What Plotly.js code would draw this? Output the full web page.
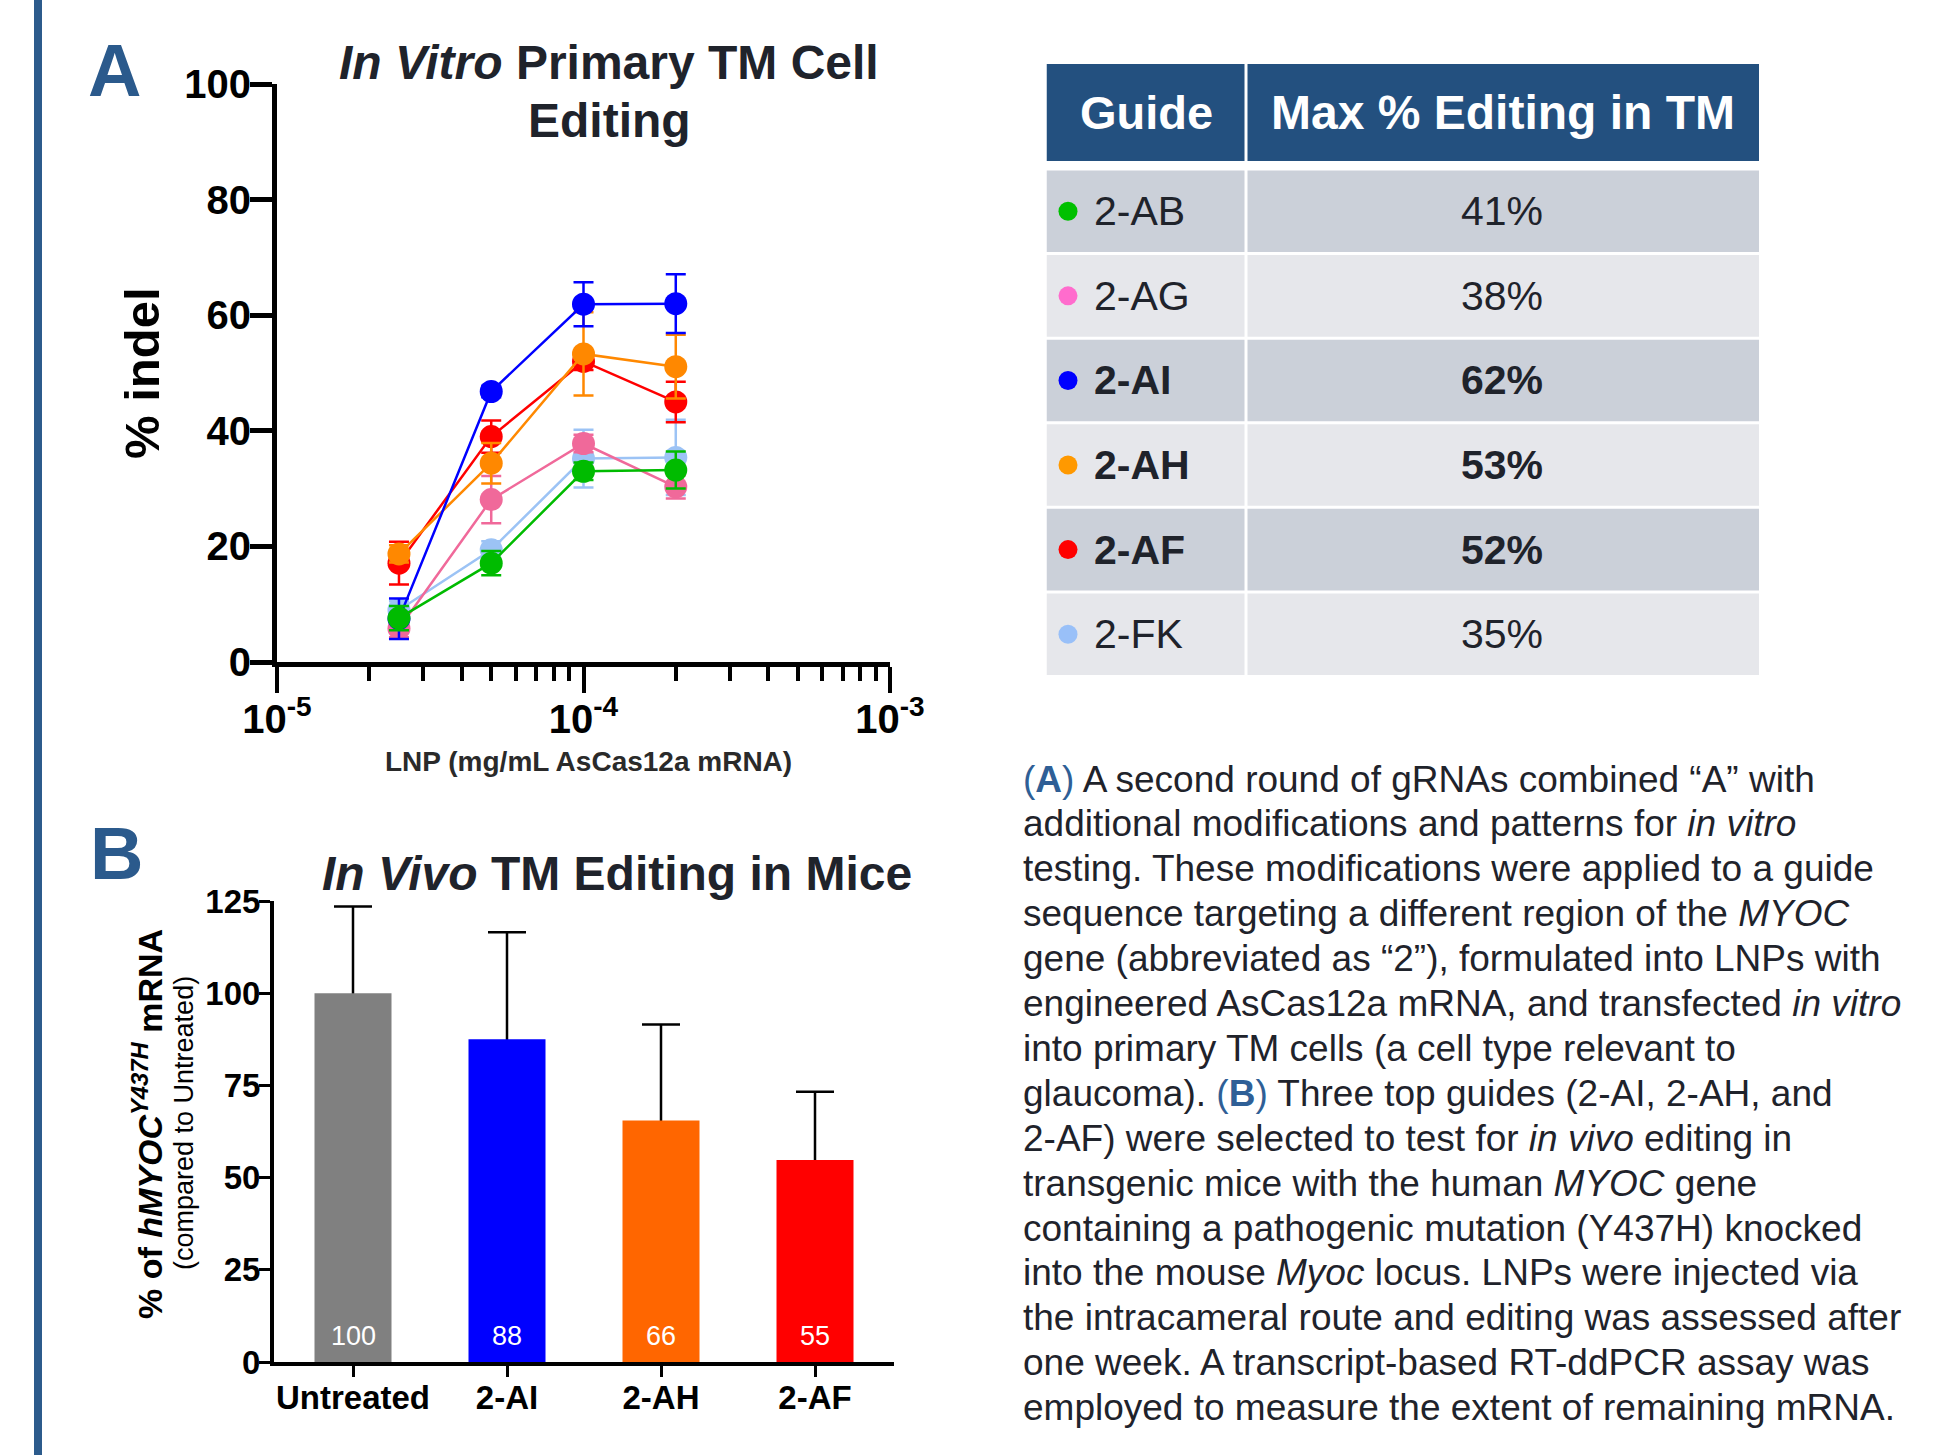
<!DOCTYPE html>
<html>
<head>
<meta charset="utf-8">
<script src="https://cdn.plot.ly/plotly-3.0.1.min.js"></script>
<style>
  html, body { margin: 0; padding: 0; background: #ffffff; }
  #chart { width: 1942px; height: 1455px; }
</style>
</head>
<body>
<div id="chart"></div>
<script>
// ---------------- DATA ----------------
// Panel A: in vitro editing (% indel) vs LNP dose
const doses = [2.5e-5, 5e-5, 1e-4, 2e-4];
const guides = ['2-AB', '2-AG', '2-AI', '2-AH', '2-AF', '2-FK'];
const indel_2AB = [7.6, 17.1, 33.0, 33.2];
const indel_2AG = [5.8, 28.1, 37.8, 30.3];
const indel_2AI = [7.5, 46.8, 61.9, 62.0];
const indel_2AH = [18.7, 34.4, 53.3, 51.1];
const indel_2AF = [17.1, 39.0, 52.0, 45.0];
const indel_2FK = [9.0, 19.4, 35.2, 35.4];
const err_2AB = [2.1, 2.1, 1.5, 3.2];
const err_2AG = [1.5, 4.1, 1.5, 2.0];
const err_2AI = [3.5, 1.0, 3.8, 5.1];
const err_2AH = [1.5, 3.5, 7.2, 5.5];
const err_2AF = [3.7, 2.8, 1.5, 3.5];
const err_2FK = [1.5, 1.5, 5.0, 6.5];
const xTickVals = [1e-5, 1e-4, 1e-3];
const xTickText = ['10<sup>-5</sup>', '10<sup>-4</sup>', '10<sup>-3</sup>'];

// Table: max % editing in TM
const maxEditing = [41, 38, 62, 53, 52, 35];

// Panel B: in vivo remaining mRNA
const bCategories = ['Untreated', '2-AI', '2-AH', '2-AF'];
const bValues = [100, 87.5, 65.5, 54.8];
const bErrUp = [23.5, 29.0, 26.0, 18.5];

// ---------------- STYLE ----------------
const FONT = 'Liberation Sans, Arial, Helvetica, sans-serif';
const W = 1942, H = 1455;
const px = v => v / W;
const py = v => 1 - v / H;
const INK = '#1f232b';
const NAVY = '#2b5a8c';

const lineColors = {
  '2-AB': '#00bb00', '2-AG': '#f0699a', '2-AI': '#0000ff',
  '2-AH': '#ff8800', '2-AF': '#ff0000', '2-FK': '#9cc3f5'
};
const dotColors = ['#00c000', '#ff6ccd', '#0000ff', '#ff9900', '#ff0000', '#99c0f8'];
const barColors = ['#808080', '#0000ff', '#ff6600', '#ff0000'];

const seriesA = {
  '2-AB': [indel_2AB, err_2AB], '2-AG': [indel_2AG, err_2AG], '2-AI': [indel_2AI, err_2AI],
  '2-AH': [indel_2AH, err_2AH], '2-AF': [indel_2AF, err_2AF], '2-FK': [indel_2FK, err_2FK]
};
const drawOrder = ['2-FK', '2-AG', '2-AF', '2-AH', '2-AI', '2-AB'];

const traces = [];
drawOrder.forEach(g => {
  traces.push({
    type: 'scatter', mode: 'lines+markers', name: g,
    x: doses, y: seriesA[g][0],
    xaxis: 'x', yaxis: 'y',
    line: { color: lineColors[g], width: 2.5 },
    marker: { color: lineColors[g], size: 23 },
    error_y: { type: 'data', array: seriesA[g][1], visible: true,
               color: lineColors[g], thickness: 2.5, width: 10 }
  });
});

// Panel B: error bars carried by a transparent bar underneath (lower half hidden by coloured bar)
traces.push({
  type: 'bar', x: bCategories, y: bValues, xaxis: 'x2', yaxis: 'y2',
  marker: { color: 'rgba(0,0,0,0)', line: { width: 0 } }, hoverinfo: 'skip',
  error_y: { type: 'data', symmetric: true, array: bErrUp, color: '#000000', thickness: 2.5, width: 19 }
});
traces.push({
  type: 'bar', x: bCategories, y: bValues, xaxis: 'x2', yaxis: 'y2',
  marker: { color: barColors, line: { width: 0 } }
});

// Table geometry (x3 in px units across table; y3 in row units, row i centred at i)
const ROW = 84.6;
const tblTop = 64, tblBottom = 676.5, tblLeft = 1046.5, tblRight = 1759;
const colSplit = 199.5;
const yTop3 = (tblTop - 169) / ROW - 0.5;
const headerBottom3 = (161 - 169) / ROW - 0.5;
const gap3 = 3 / ROW;

traces.push({
  type: 'scatter', mode: 'markers', xaxis: 'x3', yaxis: 'y3',
  x: guides.map(() => 21.5), y: guides.map((g, i) => i),
  marker: { color: dotColors, size: 19 }, hoverinfo: 'skip'
});

const sorted = maxEditing.slice().sort((a, b) => b - a);
const boldCut = sorted[2];

const shapes = [];
const annotations = [];

// Left vertical bar
shapes.push({ type: 'rect', xref: 'paper', yref: 'paper', x0: px(34), x1: px(42), y0: 0, y1: 1,
  fillcolor: '#2c5b8c', line: { width: 0 } });

// Table header
shapes.push({ type: 'rect', xref: 'x3', yref: 'y3', x0: 0, x1: colSplit - 1.5, y0: yTop3, y1: headerBottom3,
  fillcolor: '#23507f', line: { width: 0 }, layer: 'below' });
shapes.push({ type: 'rect', xref: 'x3', yref: 'y3', x0: colSplit + 1.5, x1: tblRight - tblLeft, y0: yTop3, y1: headerBottom3,
  fillcolor: '#23507f', line: { width: 0 }, layer: 'below' });
annotations.push({ xref: 'x3', yref: 'y3', x: colSplit / 2, y: (yTop3 + headerBottom3) / 2,
  text: 'Guide', showarrow: false, xanchor: 'center', yanchor: 'middle',
  font: { family: FONT, size: 47, color: '#ffffff', weight: 'bold' } });
annotations.push({ xref: 'x3', yref: 'y3', x: (colSplit + tblRight - tblLeft) / 2, y: (yTop3 + headerBottom3) / 2,
  text: 'Max % Editing in TM', showarrow: false, xanchor: 'center', yanchor: 'middle',
  font: { family: FONT, size: 48, color: '#ffffff', weight: 'bold' } });

guides.forEach((g, i) => {
  const fill = i % 2 === 0 ? '#cbd0d9' : '#e6e7eb';
  shapes.push({ type: 'rect', xref: 'x3', yref: 'y3', x0: 0, x1: colSplit - 1.5,
    y0: i - 0.5 + gap3 / 2, y1: i + 0.5 - gap3 / 2, fillcolor: fill, line: { width: 0 }, layer: 'below' });
  shapes.push({ type: 'rect', xref: 'x3', yref: 'y3', x0: colSplit + 1.5, x1: tblRight - tblLeft,
    y0: i - 0.5 + gap3 / 2, y1: i + 0.5 - gap3 / 2, fillcolor: fill, line: { width: 0 }, layer: 'below' });
  const isBold = maxEditing[i] >= boldCut;
  annotations.push({ xref: 'x3', yref: 'y3', x: 45, y: i, text: g, showarrow: false,
    xanchor: 'left', yanchor: 'middle',
    font: { family: FONT, size: 41, color: INK, weight: isBold ? 'bold' : 'normal' } });
  annotations.push({ xref: 'x3', yref: 'y3', x: 455.5, y: i, text: maxEditing[i] + '%', showarrow: false,
    xanchor: 'center', yanchor: 'middle',
    font: { family: FONT, size: 41, color: INK, weight: isBold ? 'bold' : 'normal' } });
});

// Bar value labels (white, at the foot of each bar)
bCategories.forEach((c, i) => {
  annotations.push({ xref: 'x2', yref: 'y2', x: c, y: 0, yshift: 26, text: String(Math.round(bValues[i])),
    showarrow: false, xanchor: 'center', yanchor: 'middle',
    font: { family: FONT, size: 27, color: '#ffffff' } });
});

function ann(text, x, y, size, opts) {
  const o = Object.assign({ weight: 'bold', color: INK, xanchor: 'center', angle: 0 }, opts || {});
  annotations.push({ xref: 'paper', yref: 'paper', x: px(x), y: py(y), text: text, showarrow: false,
    xanchor: o.xanchor, yanchor: 'middle', textangle: o.angle,
    font: { family: FONT, size: size, color: o.color, weight: o.weight } });
}

// Panel letters
ann('A', 114, 70, 74, { color: NAVY });
ann('B', 116, 853, 74, { color: NAVY });

// Panel A titles
ann('<i>In Vitro</i> Primary TM Cell', 609, 63, 48);
ann('Editing', 609, 120, 48);
ann('% indel', 142, 373, 49, { angle: -90, color: '#000000' });
ann('LNP (mg/mL AsCas12a mRNA)', 588, 761, 28, { color: '#2a2a2a' });

// Panel B titles
ann('<i>In Vivo</i> TM Editing in Mice', 617, 873, 48);
ann('% of <i>hMYOC</i><sup><i>Y437H</i></sup> mRNA', 147, 1124, 34, { angle: -90, color: '#000000' });
ann('(compared to Untreated)', 184, 1123, 27, { angle: -90, color: '#000000', weight: 'normal' });

// Caption paragraph
const BL = '<span style="color:#2f5f96">';
const captionLines = [
  BL + '(<b>A</b>)</span> A second round of gRNAs combined \u201CA\u201D with',
  'additional modifications and patterns for <i>in vitro</i>',
  'testing. These modifications were applied to a guide',
  'sequence targeting a different region of the <i>MYOC</i>',
  'gene (abbreviated as \u201C2\u201D), formulated into LNPs with',
  'engineered AsCas12a mRNA, and transfected <i>in vitro</i>',
  'into primary TM cells (a cell type relevant to',
  'glaucoma). ' + BL + '(<b>B</b>)</span> Three top guides (2-AI, 2-AH, and',
  '2-AF) were selected to test for <i>in vivo</i> editing in',
  'transgenic mice with the human <i>MYOC</i> gene',
  'containing a pathogenic mutation (Y437H) knocked',
  'into the mouse <i>Myoc</i> locus. LNPs were injected via',
  'the intracameral route and editing was assessed after',
  'one week. A transcript-based RT-ddPCR assay was',
  'employed to measure the extent of remaining mRNA.'
];
captionLines.forEach((t, k) => ann(t, 1021, 779 + 44.9 * k, 37, { xanchor: 'left', weight: 'normal' }));

const minorVals = [];
[1e-5, 1e-4].forEach(d => { for (let m = 2; m <= 9; m++) minorVals.push(m * d); });

const layout = {
  width: W, height: H,
  margin: { l: 0, r: 0, t: 0, b: 0 },
  paper_bgcolor: '#ffffff', plot_bgcolor: 'rgba(0,0,0,0)',
  showlegend: false,
  barmode: 'overlay',
  font: { family: FONT, color: '#000000' },
  xaxis: {
    type: 'log', domain: [px(277), px(890)], range: [-5, -3], anchor: 'y',
    showgrid: false, zeroline: false, showline: true, linecolor: '#000', linewidth: 5,
    ticks: 'outside', ticklen: 26, tickwidth: 4, tickcolor: '#000', ticklabelstandoff: -8,
    tickmode: 'array', tickvals: xTickVals, ticktext: xTickText,
    tickfont: { family: FONT, size: 40, color: '#000', weight: 'bold' },
    minor: { tickmode: 'array', tickvals: minorVals, ticks: 'outside', ticklen: 14, tickwidth: 4, tickcolor: '#000', showgrid: false }
  },
  yaxis: {
    domain: [py(662), py(84)], range: [0, 100], anchor: 'x',
    showgrid: false, zeroline: false, showline: true, linecolor: '#000', linewidth: 5,
    ticks: 'outside', ticklen: 22, tickwidth: 5, tickcolor: '#000', ticklabelstandoff: -9,
    tickmode: 'array', tickvals: [0, 20, 40, 60, 80, 100],
    tickfont: { family: FONT, size: 40, color: '#000', weight: 'bold' }
  },
  xaxis2: {
    type: 'category', domain: [px(274), px(894)], range: [-0.513, 3.513], anchor: 'y2',
    showgrid: false, zeroline: false, showline: true, linecolor: '#000', linewidth: 4,
    ticks: 'outside', ticklen: 11, tickwidth: 3, tickcolor: '#000', ticklabelstandoff: -8,
    tickfont: { family: FONT, size: 33, color: '#000', weight: 'bold' }
  },
  yaxis2: {
    domain: [py(1362), py(901)], range: [0, 125], anchor: 'x2',
    showgrid: false, zeroline: false, showline: true, linecolor: '#000', linewidth: 4,
    ticks: 'outside', ticklen: 11, tickwidth: 3, tickcolor: '#000', ticklabelstandoff: -8,
    tickmode: 'array', tickvals: [0, 25, 50, 75, 100, 125],
    tickfont: { family: FONT, size: 33, color: '#000', weight: 'bold' }
  },
  xaxis3: { domain: [px(tblLeft), px(tblRight)], range: [0, tblRight - tblLeft], visible: false, anchor: 'y3', fixedrange: true },
  yaxis3: { domain: [py(tblBottom), py(tblTop)], range: [5.5, yTop3], visible: false, anchor: 'x3', fixedrange: true },
  bargap: 0.5,
  shapes: shapes,
  annotations: annotations
};

Plotly.newPlot('chart', traces, layout, { staticPlot: true, displayModeBar: false });
</script>
</body>
</html>
